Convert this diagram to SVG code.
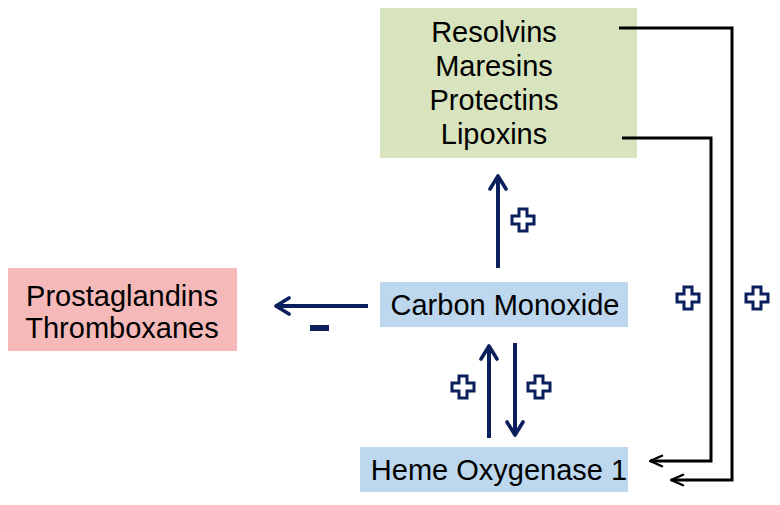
<svg xmlns="http://www.w3.org/2000/svg" width="780" height="505" viewBox="0 0 780 505">
<style>
text{font-family:"Liberation Sans",Arial,sans-serif;font-size:29px;fill:#000;text-anchor:middle}
.nv{stroke:#0b1f5c;stroke-width:4;fill:none}
.bk{stroke:#000;stroke-width:3;fill:none}
.plus{fill:#fff;stroke:#0b1f5c;stroke-width:3}
</style>
<defs>
<marker id="ah" viewBox="0 0 10 10" refX="8" refY="5" markerWidth="5" markerHeight="5" orient="auto" markerUnits="strokeWidth"><path d="M1.5,1 L8,5 L1.5,9" fill="none" stroke="#0b1f5c" stroke-width="1.8" stroke-linecap="round" stroke-linejoin="round"/></marker>
<marker id="bh" viewBox="0 0 10 10" refX="9" refY="5" markerWidth="5" markerHeight="5" orient="auto" markerUnits="strokeWidth"><path d="M1,1.5 L9,5 L1,8.5" fill="none" stroke="#000" stroke-width="1.6" stroke-linecap="round" stroke-linejoin="round"/></marker>
<path id="p" d="M-4,-11 H4 V-4 H11 V4 H4 V11 H-4 V4 H-11 V-4 H-4 Z"/>
</defs>
<g id="resolvins">
<rect x="380" y="8" width="257" height="150" fill="#d7e4bd"/>
<text x="494" y="42">Resolvins</text>
<text x="494" y="76">Maresins</text>
<text x="494" y="110">Protectins</text>
<text x="494" y="144">Lipoxins</text>
</g>
<g id="prostaglandins">
<rect x="8" y="268" width="229" height="83" fill="#f4b9b8"/>
<text x="122" y="306">Prostaglandins</text>
<text x="122" y="338">Thromboxanes</text>
</g>
<g id="co">
<rect x="380" y="282" width="248" height="45" fill="#bdd7ee"/>
<text x="505" y="315">Carbon Monoxide</text>
</g>
<g id="ho1">
<rect x="360" y="447" width="268" height="45" fill="#bdd7ee"/>
<text x="499" y="480">Heme Oxygenase 1</text>
</g>
<g id="connectors">
<line class="nv" x1="498" y1="268" x2="498" y2="176" marker-end="url(#ah)"/>
<line class="nv" x1="368" y1="306" x2="276" y2="306" marker-end="url(#ah)"/>
<line class="nv" x1="489" y1="438" x2="489" y2="346" marker-end="url(#ah)"/>
<line class="nv" x1="515" y1="343" x2="515" y2="435" marker-end="url(#ah)"/>
<polyline class="bk" points="619,28 732,28 732,480 671,480" marker-end="url(#bh)"/>
<polyline class="bk" points="622,138 711,138 711,461 650,461" marker-end="url(#bh)"/>
<use href="#p" class="plus" x="523" y="220"/>
<use href="#p" class="plus" x="463" y="387"/>
<use href="#p" class="plus" x="539" y="387"/>
<use href="#p" class="plus" x="688" y="298"/>
<use href="#p" class="plus" x="757" y="298"/>
<rect x="310" y="325" width="19" height="6" fill="#0b1f5c"/>
</g>
</svg>
